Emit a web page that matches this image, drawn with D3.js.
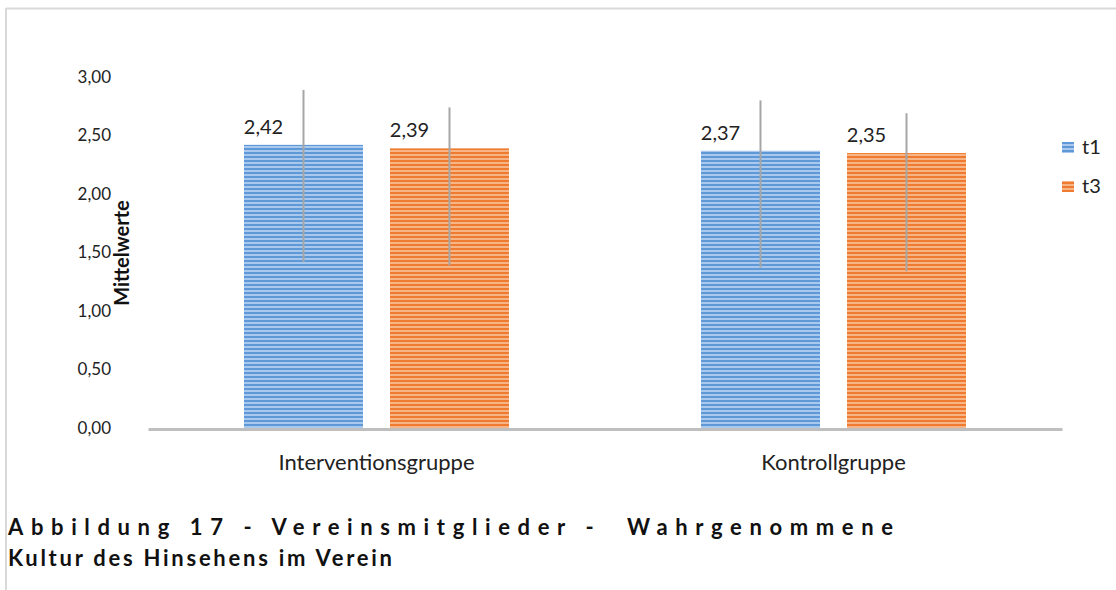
<!DOCTYPE html>
<html><head><meta charset="utf-8">
<script src="https://cdn.jsdelivr.net/npm/d3@7"></script>
<style>body{margin:0;background:#fff}svg{display:block}</style>
</head><body>
<script>
const categories = ["Interventionsgruppe", "Kontrollgruppe"];
const seriesNames = ["t1", "t3"];
const t1Values = [2.42, 2.37];
const t3Values = [2.39, 2.35];
const t1ErrHigh = [2.89, 2.80];
const t1ErrLow = [1.42, 1.37];
const t3ErrHigh = [2.74, 2.69];
const t3ErrLow = [1.39, 1.34];
const yTicks = [0, 0.5, 1, 1.5, 2, 2.5, 3];
const yTitle = "Mittelwerte";
const titleLines = ["Abbildung 17 - Vereinsmitglieder -  Wahrgenommene", "Kultur des Hinsehens im Verein"];

const W = 1116, H = 590;
const font = "Lato, 'Open Sans', sans-serif";
const svg = d3.select("body").append("svg").attr("width", W).attr("height", H);

const defs = svg.append("defs");
const colors = {t1: ["#5f98d6", "#a8c9ed"], t3: ["#ee7b30", "#f6b487"]};
seriesNames.forEach(s => {
  const p = defs.append("pattern").attr("id", "pat-" + s).attr("patternUnits", "userSpaceOnUse")
    .attr("width", 8).attr("height", 4);
  p.append("rect").attr("width", 8).attr("height", 4).attr("fill", colors[s][1]);
  p.append("rect").attr("width", 8).attr("height", 2).attr("fill", colors[s][0]);
});

// frame
svg.append("line").attr("x1", 6).attr("x2", W).attr("y1", 8.5).attr("y2", 8.5).attr("stroke", "#d9d9d9").attr("stroke-width", 2);
svg.append("line").attr("x1", 6).attr("x2", 6).attr("y1", 8).attr("y2", H).attr("stroke", "#d9d9d9").attr("stroke-width", 2);

const x0 = d3.scaleBand().domain(categories).range([148, 1062]).paddingInner(0).paddingOuter(0);
const x1 = d3.scaleBand().domain(seriesNames).range([0, 265]).paddingInner(0.185).paddingOuter(0);
const y = d3.scaleLinear().domain([0, 3]).range([428, 77]);

const data = [];
categories.forEach((c, i) => {
  data.push({cat: c, s: "t1", v: t1Values[i], hi: t1ErrHigh[i], lo: t1ErrLow[i]});
  data.push({cat: c, s: "t3", v: t3Values[i], hi: t3ErrHigh[i], lo: t3ErrLow[i]});
});
const groupOffset = (x0.bandwidth() - 265) / 2;
const bx = d => x0(d.cat) + groupOffset + x1(d.s);

// y axis labels
const yAxis = svg.append("g").attr("transform", "translate(111,0)")
  .call(d3.axisLeft(y).tickValues(yTicks).tickSize(0).tickPadding(0)
    .tickFormat(d => d3.format(".2f")(d).replace(".", ",")));
yAxis.select(".domain").remove();
yAxis.selectAll("text").attr("font-family", font).attr("font-size", 17).attr("fill", "#222");

// bars
svg.selectAll("rect.bar").data(data).enter().append("rect").attr("class", "bar")
  .attr("x", bx).attr("width", x1.bandwidth())
  .attr("y", d => y(d.v)).attr("height", d => y(0) - y(d.v))
  .attr("fill", d => "url(#pat-" + d.s + ")");

// axis line
const xAxis = svg.append("g").attr("transform", "translate(0,429)")
  .call(d3.axisBottom(x0).tickSize(0).tickPadding(25));
xAxis.select(".domain").attr("stroke", "#bfbfbf").attr("stroke-width", 3);
xAxis.selectAll("text").attr("font-family", font).attr("font-size", 22).attr("fill", "#222");

// error bars
svg.selectAll("line.err").data(data).enter().append("line").attr("class", "err")
  .attr("x1", d => bx(d) + x1.bandwidth() / 2).attr("x2", d => bx(d) + x1.bandwidth() / 2)
  .attr("y1", d => y(d.hi)).attr("y2", d => y(d.lo))
  .attr("stroke", "#a6a6a6").attr("stroke-width", 2);

// value labels
svg.selectAll("text.val").data(data).enter().append("text").attr("class", "val")
  .attr("x", d => bx(d) + x1.bandwidth() / 2 - 40).attr("y", d => y(d.v) - 11)
  .attr("text-anchor", "middle").attr("font-family", font).attr("font-size", 20).attr("fill", "#222")
  .text(d => d3.format(".2f")(d.v).replace(".", ","));

// y title
svg.append("text").attr("transform", "translate(129,253) rotate(-90)")
  .attr("text-anchor", "middle").attr("font-family", font).attr("font-size", 20).attr("font-weight", "bold")
  .attr("fill", "#111").text(yTitle);

// legend
const leg = svg.append("g").attr("transform", "translate(1062,142)");
seriesNames.forEach((s, i) => {
  leg.append("rect").attr("x", 0).attr("y", i * 39).attr("width", 12).attr("height", 11).attr("fill", "url(#pat-" + s + ")");
  leg.append("text").attr("x", 20).attr("y", i * 39 + 12).attr("font-family", font).attr("font-size", 20)
    .attr("fill", "#222").text(s);
});

// title
const tl = [[8, 535, 885], [8, 566, 384]];
titleLines.forEach((t, i) => {
  svg.append("text").attr("x", tl[i][0]).attr("y", tl[i][1]).attr("font-family", font)
    .attr("font-size", 22).attr("font-weight", "bold").attr("fill", "#111")
    .attr("textLength", tl[i][2]).attr("lengthAdjust", "spacing")
    .style("white-space", "pre").text(t);
});
</script>
</body></html>
